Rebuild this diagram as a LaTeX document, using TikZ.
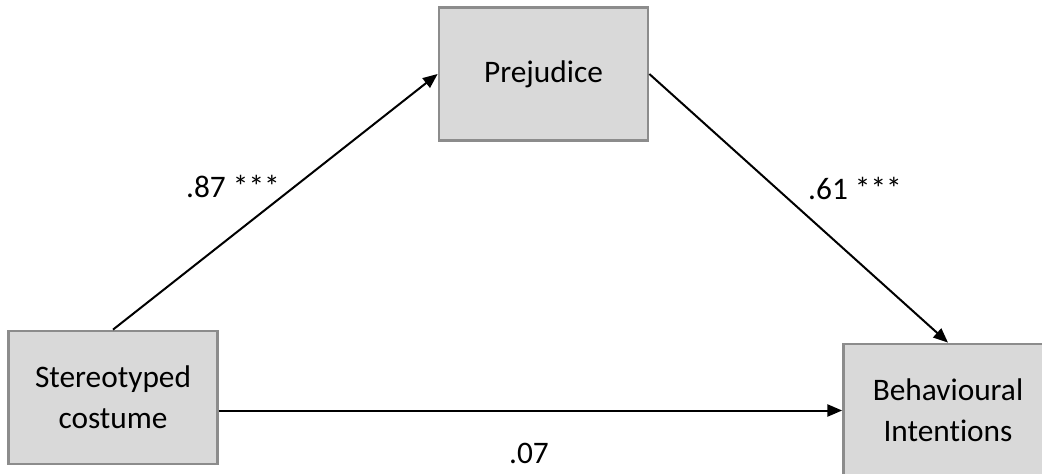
\documentclass[tikz,border=0pt]{standalone}
\usepackage{fontspec}
\setmainfont[Ligatures=NoCommon]{Carlito}
\usetikzlibrary{arrows.meta,positioning}
\definecolor{boxfill}{HTML}{D9D9D9}
\definecolor{boxline}{HTML}{8C8C8C}

\begin{document}
\begin{tikzpicture}[x=0.75pt,y=-0.75pt,
    varbox/.style={draw=boxline,fill=boxfill,line width=1.8pt,minimum width=157pt,
      minimum height=100pt,align=center,font=\fontsize{23.5}{30.5}\selectfont,inner sep=0pt},
    pathline/.style={line width=1.5pt,-{Triangle[length=11pt,width=9pt]}},
    coef/.style={font=\fontsize{23.5}{28}\selectfont,inner sep=0pt}]
  \useasboundingbox (0,0) rectangle (1042,474);
  \clip (0,0) rectangle (1042,474);
  % Variables
  \node[varbox] (prej) at (543.5,74) {Prejudice};
  \node[varbox] (costume) at (113,397.5) {Stereotyped\\costume};
  \node[varbox] (intent) at (948,410.5) {Behavioural\\Intentions};

  % Paths
  \draw[pathline] (costume.north) -- (prej.west);
  \draw[pathline] (prej.east) -- (intent.north);
  \draw[pathline] (intent.west -| costume.east) -- (intent.west);

  % Coefficients
  \node[coef] (a) at (233,186) {.87 ***};
  \node[coef] (b) at (855,188) {.61 ***};
  \node[coef] (c) at (529,453) {.07};
\end{tikzpicture}
\end{document}
